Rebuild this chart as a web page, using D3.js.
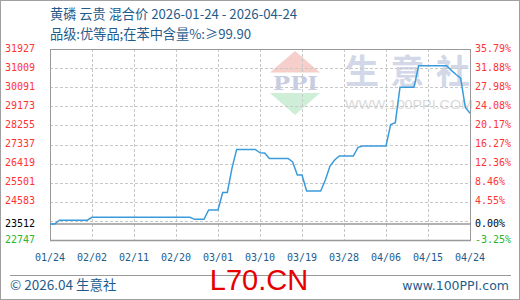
<!DOCTYPE html>
<html>
<head>
<meta charset="utf-8">
<script src="https://cdn.jsdelivr.net/npm/d3@7"></script>
<style>
body { margin: 0; background: #fff; }
svg { display: block; }
</style>
</head>
<body>
<svg id="chart" width="520" height="300"></svg>
<script>
let title = "黄磷 云贵 混合价 2026-01-24 - 2026-04-24";
let subtitle = "品级:优等品;在苯中含量%:≥99.90";
let startDate = "2026-01-24";
let basePrice = 23512;

// one price per day, 01/24 .. 04/24
let prices = [
	23512, 23512, 23700, 23700, 23700, 23700, 23700, 23700, 23700, 23835,
	23835, 23835, 23835, 23835, 23835, 23835, 23835, 23835, 23835, 23835,
	23835, 23835, 23835, 23835, 23835, 23835, 23835, 23835, 23835, 23835,
	23835, 23740, 23740, 23740, 24190, 24190, 24190, 25030, 25030, 26200,
	27100, 27100, 27100, 27100, 27100, 26940, 26930, 26670, 26670, 26670,
	26670, 26670, 26500, 25870, 25870, 25100, 25100, 25100, 25100, 25630,
	26300, 26590, 26785, 26785, 26785, 26785, 27200, 27265, 27265, 27265,
	27265, 27265, 27265, 28300, 28385, 30090, 30090, 30090, 30090, 31125,
	31125, 31125, 31125, 31125, 31125, 31125, 30900, 30700, 30530, 29115,
	28840
];

let yDomain = [22747, 31927];
let gridValues = [31009, 30091, 29173, 28255, 27337, 26419, 25501, 24583, 23665];
let leftTicks = [31927, 31009, 30091, 29173, 28255, 27337, 26419, 25501, 24583, 23512, 22747];
let rightTicks = ["35.79%", "31.88%", "27.98%", "24.08%", "20.17%", "16.27%", "12.36%", "8.46%", "4.55%", "0.00%", "-3.25%"];
let xTickLabels = ["01/24", "02/02", "02/11", "02/20", "03/01", "03/10", "03/19", "03/28", "04/06", "04/15", "04/24"];

let svg = d3.select("#chart");
let W = 520, H = 300;
let L = 50, R = 470, T = 49, B = 240;
let blue = "#1f5c8b";
let mono = "'DejaVu Sans Mono', monospace";
let cjk = "'Noto Sans CJK SC', sans-serif";

let start = d3.timeParse("%Y-%m-%d")(startDate);
let data = prices.map((p, i) => ({ date: d3.timeDay.offset(start, i), price: p }));
let xDates = xTickLabels.map(s => d3.timeParse("%Y/%m/%d")("2026/" + s));

let x = d3.scaleTime().domain([xDates[0], xDates[xDates.length - 1]]).range([L, R]);
let y = d3.scaleLinear().domain(yDomain).range([B, T]);

// outer frame
svg.append("rect").attr("x", 0.5).attr("y", 0.5).attr("width", W - 1).attr("height", H - 1)
	.attr("fill", "#fff").attr("stroke", "#a0a0a0");

// watermark
let wm = svg.append("g");
wm.append("path").attr("d", "M295,51L320,72.5L270,72.5Z").attr("fill", "#f6cfca");
wm.append("path").attr("d", "M270,93L320,93L295,115Z").attr("fill", "#cfeed7");
wm.append("text").attr("x", 273).attr("y", 90).attr("textLength", 45).attr("lengthAdjust", "spacingAndGlyphs")
	.attr("font-family", "'DejaVu Serif', serif").attr("font-weight", "bold").attr("font-size", 19)
	.attr("fill", "#c8cde2").text("PPI");
wm.append("text").attr("x", 345).attr("y", 84).attr("textLength", 125).attr("lengthAdjust", "spacing")
	.attr("font-family", cjk).attr("font-weight", "bold").attr("font-size", 34)
	.attr("fill", "#d3d8e8").text("生意社");
wm.append("text").attr("x", 345).attr("y", 109).attr("textLength", 128).attr("lengthAdjust", "spacingAndGlyphs")
	.attr("font-family", "'Liberation Sans', sans-serif").attr("font-size", 12)
	.attr("fill", "#d9d9d9").text("WWW.100PPI.COM");

// grid
svg.append("g").selectAll("line").data(gridValues).join("line")
	.attr("x1", L).attr("x2", R)
	.attr("y1", d => Math.round(y(d)) + 0.5).attr("y2", d => Math.round(y(d)) + 0.5)
	.attr("stroke", "#c8c8c8").attr("stroke-dasharray", "3,2");
svg.append("g").selectAll("line").data(xDates.slice(1, -1)).join("line")
	.attr("x1", d => Math.round(x(d)) + 0.5).attr("x2", d => Math.round(x(d)) + 0.5)
	.attr("y1", T).attr("y2", B)
	.attr("stroke", "#c8c8c8").attr("stroke-dasharray", "3,2");

// base line
svg.append("line").attr("x1", L).attr("x2", R).attr("y1", y(basePrice)).attr("y2", y(basePrice))
	.attr("stroke", "#999").attr("stroke-width", 1.5);

// plot frame
svg.append("rect").attr("x", L + 0.5).attr("y", T + 0.5).attr("width", R - L).attr("height", B - T)
	.attr("fill", "none").attr("stroke", "#999");
svg.append("line").attr("x1", L).attr("x2", R + 1).attr("y1", B + 0.5).attr("y2", B + 0.5)
	.attr("stroke", "#999").attr("stroke-width", 1.5);

// price line
let line = d3.line().x(d => x(d.date)).y(d => y(d.price));
svg.append("path").datum(data).attr("d", line)
	.attr("fill", "none").attr("stroke", "#3a9bdc").attr("stroke-width", 1.5);

// y labels
let tickColor = v => v > basePrice ? "#ff3333" : (v < basePrice ? "#2db52d" : "#000");
svg.append("g").selectAll("text").data(leftTicks).join("text")
	.attr("x", 5).attr("y", d => y(d) - 1).attr("dy", "0.35em")
	.attr("font-family", mono).attr("font-size", 10)
	.attr("fill", tickColor).text(d => d);
svg.append("g").selectAll("text").data(leftTicks).join("text")
	.attr("x", 475).attr("y", d => y(d) - 1).attr("dy", "0.35em")
	.attr("font-family", mono).attr("font-size", 10)
	.attr("fill", tickColor).text((d, i) => rightTicks[i]);

// x labels
svg.append("g").selectAll("text").data(xDates).join("text")
	.attr("x", d => x(d)).attr("y", 257).attr("dy", "0.35em").attr("text-anchor", "middle")
	.attr("font-family", mono).attr("font-size", 10)
	.attr("fill", blue).text((d, i) => xTickLabels[i]);

// titles
svg.append("text").attr("x", 50).attr("y", 19).attr("font-family", cjk).attr("font-size", 13.2)
	.attr("fill", blue).text(title);
svg.append("text").attr("x", 50).attr("y", 39).attr("font-family", cjk).attr("font-size", 13.2)
	.attr("fill", blue).text(subtitle);

// footer
svg.append("line").attr("x1", 10).attr("x2", 511).attr("y1", 275.5).attr("y2", 275.5).attr("stroke", "#999");
svg.append("text").attr("x", 10).attr("y", 290).attr("font-family", cjk).attr("font-size", 13.5)
	.attr("fill", blue).text("© 2026.04 生意社");
svg.append("text").attr("x", 509).attr("y", 290).attr("text-anchor", "end")
	.attr("font-family", "'DejaVu Sans', sans-serif").attr("font-size", 12.5)
	.attr("fill", blue).text("www.100PPI.com");
svg.append("text").attr("x", 259).attr("y", 290).attr("text-anchor", "middle")
	.attr("font-family", "'Liberation Sans', Arial, sans-serif").attr("font-size", 29)
	.attr("fill", "#e60000").text("L70.CN");
</script>
</body>
</html>
